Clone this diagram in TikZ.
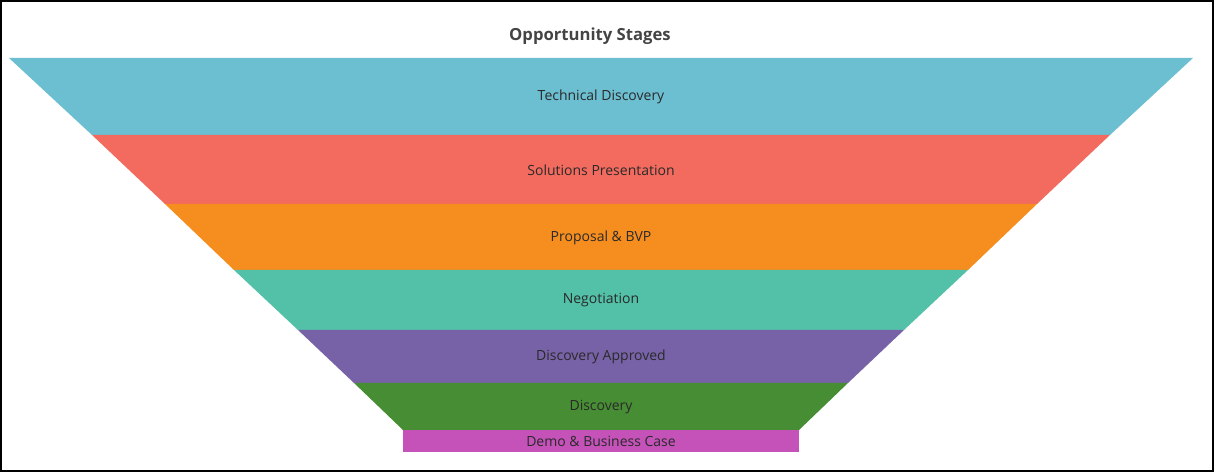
\documentclass[tikz,border=0pt]{standalone}
\usepackage{fontspec}
\setmainfont{Open Sans}
\definecolor{techc}{RGB}{108, 190, 209}
\definecolor{solc}{RGB}{242, 107, 94}
\definecolor{propc}{RGB}{245, 141, 31}
\definecolor{negc}{RGB}{82, 193, 168}
\definecolor{apprc}{RGB}{119, 98, 168}
\definecolor{discc}{RGB}{70, 141, 52}
\definecolor{democ}{RGB}{196, 82, 184}
\definecolor{lbl}{RGB}{42, 42, 42}
\definecolor{ttl}{RGB}{68, 68, 68}
\newcommand*{\ctr}{601}

\begin{document}
\begin{tikzpicture}[
   x=0.75pt, y=-0.75pt,
   stagelbl/.style={text=lbl, inner sep=0, font=\fontsize{10.5}{12}\selectfont},
   titlelbl/.style={text=ttl, inner sep=0, font=\fontsize{12.5}{15}\selectfont\bfseries},
   frame/.style={draw=black, line width=1.5pt}
  ]

  \useasboundingbox (0, 0) rectangle (1214, 473);

  % Title
  \node (title) at (590, 36) [titlelbl] {Opportunity Stages};

  % Funnel bands: top/bottom/left top/left bottom/colour/label/name
  \foreach \Y/\B/\L/\M/\C/\T/\N in {
      58/135/9/92/techc/Technical Discovery/tech,
      135/204/92/165/solc/Solutions Presentation/sol,
      204/270/165/234/propc/Proposal \& BVP/prop,
      270/330/234/298/negc/Negotiation/neg,
      330/383/298/354/apprc/Discovery Approved/appr,
      383/430/354/403/discc/Discovery/disc,
      430/452/403/403/democ/Demo \& Business Case/demo} {
    \fill[\C] (\L, \Y) -- (2 * \ctr - \L, \Y) -- (2 * \ctr - \M, \B) -- (\M, \B) -- cycle;
    \node (\N) at (\ctr, {(\Y + \B) / 2 + 0.5}) [stagelbl] {\T};
  }

  % Frame
  \draw[frame] (1, 1) rectangle (1213, 471.5);

\end{tikzpicture}
\end{document}
